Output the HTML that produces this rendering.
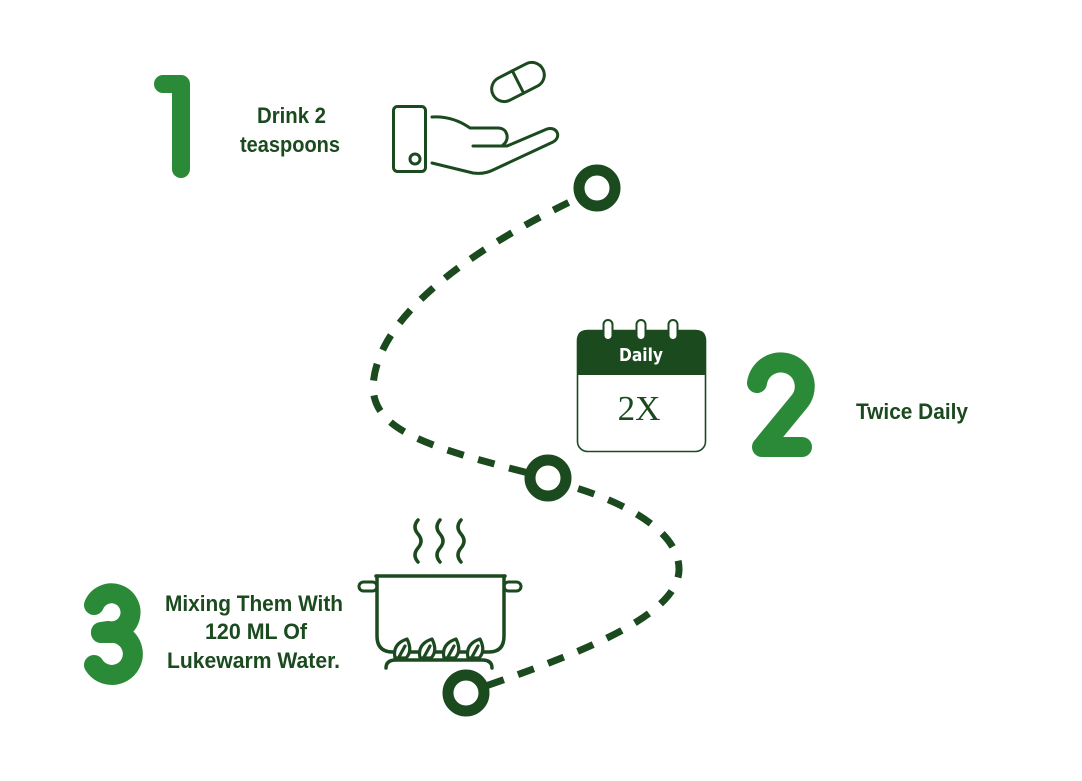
<!DOCTYPE html>
<html>
<head>
<meta charset="utf-8">
<style>
  html, body { margin: 0; padding: 0; background: #ffffff; }
  body { width: 1082px; height: 781px; overflow: hidden; }
  svg { display: block; }
  .t { font-family: "Liberation Sans", "DejaVu Sans", sans-serif; font-weight: bold; font-size: 22.5px; fill: #1b4a1f; }
</style>
</head>
<body>
<svg width="1082" height="781" viewBox="0 0 1082 781" xmlns="http://www.w3.org/2000/svg">
  <rect width="1082" height="781" fill="#ffffff"/>

  <!-- dashed connectors -->
  <g fill="none" stroke="#1b4a1f" stroke-width="7" stroke-dasharray="17 15">
    <path d="M 597 188 L 578 198 C 490 240, 375 310, 373 388 C 375 432, 430 448, 548 478"/>
    <path d="M 548 478 L 566 485 C 620 500, 680 530, 679 570 C 678 620, 560 660, 466 693"/>
  </g>

  <!-- big numbers -->
  <g fill="none" stroke="#2b8a38" stroke-width="18" stroke-linecap="round" stroke-linejoin="round">
    <path d="M 163 84 L 181 84 L 181 169"/>
  </g>
  <g fill="none" stroke="#2b8a38" stroke-width="20" stroke-linecap="round" stroke-linejoin="round">
    <path d="M 757 383 A 24 24 0 1 1 799 402 L 762 447 L 802 447"/>
    <path d="M 94 605 A 19 19 0 1 1 108 631 L 101 632"/>
    <path d="M 101 633 L 110 633 A 21 21 0 1 1 94 665"/>
  </g>

  <!-- texts -->
  <text class="t" x="257" y="123" textLength="69" lengthAdjust="spacingAndGlyphs">Drink 2</text>
  <text class="t" x="240" y="152" textLength="100" lengthAdjust="spacingAndGlyphs">teaspoons</text>
  <text class="t" x="856" y="419" textLength="112" lengthAdjust="spacingAndGlyphs">Twice Daily</text>
  <text class="t" x="165" y="611" textLength="178" lengthAdjust="spacingAndGlyphs">Mixing Them With</text>
  <text class="t" x="205" y="639" textLength="102" lengthAdjust="spacingAndGlyphs">120 ML Of</text>
  <text class="t" x="167" y="668" textLength="173" lengthAdjust="spacingAndGlyphs">Lukewarm Water.</text>

  <!-- hand icon -->
  <g fill="none" stroke="#1b4a1f" stroke-width="3" stroke-linecap="round" stroke-linejoin="round">
    <rect x="393.5" y="106.5" width="32" height="65" rx="4"/>
    <circle cx="415" cy="159" r="5"/>
    <path d="M 432 117 C 448 116, 460 121, 470 128 L 498 128 C 508 128, 510 140, 503 145"/>
    <path d="M 473 146 L 507 146 L 547 129 C 557 126, 562 137, 553 142 L 493 170 C 487 173, 480 174, 473 173 L 432 163"/>
    <g transform="translate(518 82) rotate(-27)">
      <rect x="-28" y="-12.5" width="56" height="25" rx="12.5"/>
      <line x1="0" y1="-12.5" x2="0" y2="12.5"/>
    </g>
  </g>

  <!-- calendar -->
  <g>
    <rect x="577.5" y="330.5" width="128" height="121" rx="10" fill="#ffffff" stroke="#1b4a1f" stroke-width="1.6"/>
    <path d="M 577 375 L 577 340 Q 577 330 587 330 L 696 330 Q 706 330 706 340 L 706 375 Z" fill="#1b4a1f"/>
    <g fill="#ffffff" stroke="#1b4a1f" stroke-width="2">
      <rect x="603.5" y="320" width="9" height="20" rx="4.5"/>
      <rect x="636.5" y="320" width="9" height="20" rx="4.5"/>
      <rect x="668.5" y="320" width="9" height="20" rx="4.5"/>
    </g>
    <text x="641" y="361" text-anchor="middle" font-family="'DejaVu Sans', 'Liberation Sans', sans-serif" font-weight="bold" font-size="18" fill="#ffffff" textLength="44" lengthAdjust="spacingAndGlyphs">Daily</text>
    <text x="639" y="420" text-anchor="middle" font-family="'Liberation Serif', serif" font-size="35" fill="#1b4a1f">2X</text>
  </g>

  <!-- pot icon -->
  <g fill="none" stroke="#1b4a1f" stroke-width="3.5" stroke-linecap="round" stroke-linejoin="round">
    <path d="M 418 520 q -6 7 0 14 t 0 14 t 0 14"/>
    <path d="M 440 520 q -6 7 0 14 t 0 14 t 0 14"/>
    <path d="M 461 520 q -6 7 0 14 t 0 14 t 0 14"/>
    <line x1="376" y1="576" x2="505" y2="576"/>
    <path d="M 377 576 L 377 636 Q 377 652 393 652 L 489 652 Q 504 652 504 636 L 504 576"/>
    <rect x="359" y="582" width="18" height="9" rx="4.5" stroke-width="3"/>
    <rect x="504" y="582" width="17" height="9" rx="4.5" stroke-width="3"/>
    <path d="M 386 668 Q 386 660 396 660 L 482 660 Q 492 660 492 668"/>
  </g>
  <g fill="#ffffff" stroke="#1b4a1f" stroke-width="3.2" stroke-linejoin="round" stroke-linecap="round">
    <path d="M 395 658 Q 392 644 407 639 Q 413 651 406 658 Z"/>
    <path d="M 420 658 Q 417 644 432 639 Q 438 651 431 658 Z"/>
    <path d="M 444 658 Q 441 644 456 639 Q 462 651 455 658 Z"/>
    <path d="M 468 658 Q 465 644 480 639 Q 486 651 479 658 Z"/>
    <path d="M 399 657 L 405 646" fill="none"/>
    <path d="M 424 657 L 430 646" fill="none"/>
    <path d="M 448 657 L 454 646" fill="none"/>
    <path d="M 472 657 L 478 646" fill="none"/>
  </g>

  <!-- ring nodes -->
  <g fill="#ffffff" stroke="#1b4a1f" stroke-width="11">
    <circle cx="597" cy="188" r="18"/>
    <circle cx="548" cy="478" r="18"/>
    <circle cx="466" cy="693" r="18"/>
  </g>
</svg>
</body>
</html>
